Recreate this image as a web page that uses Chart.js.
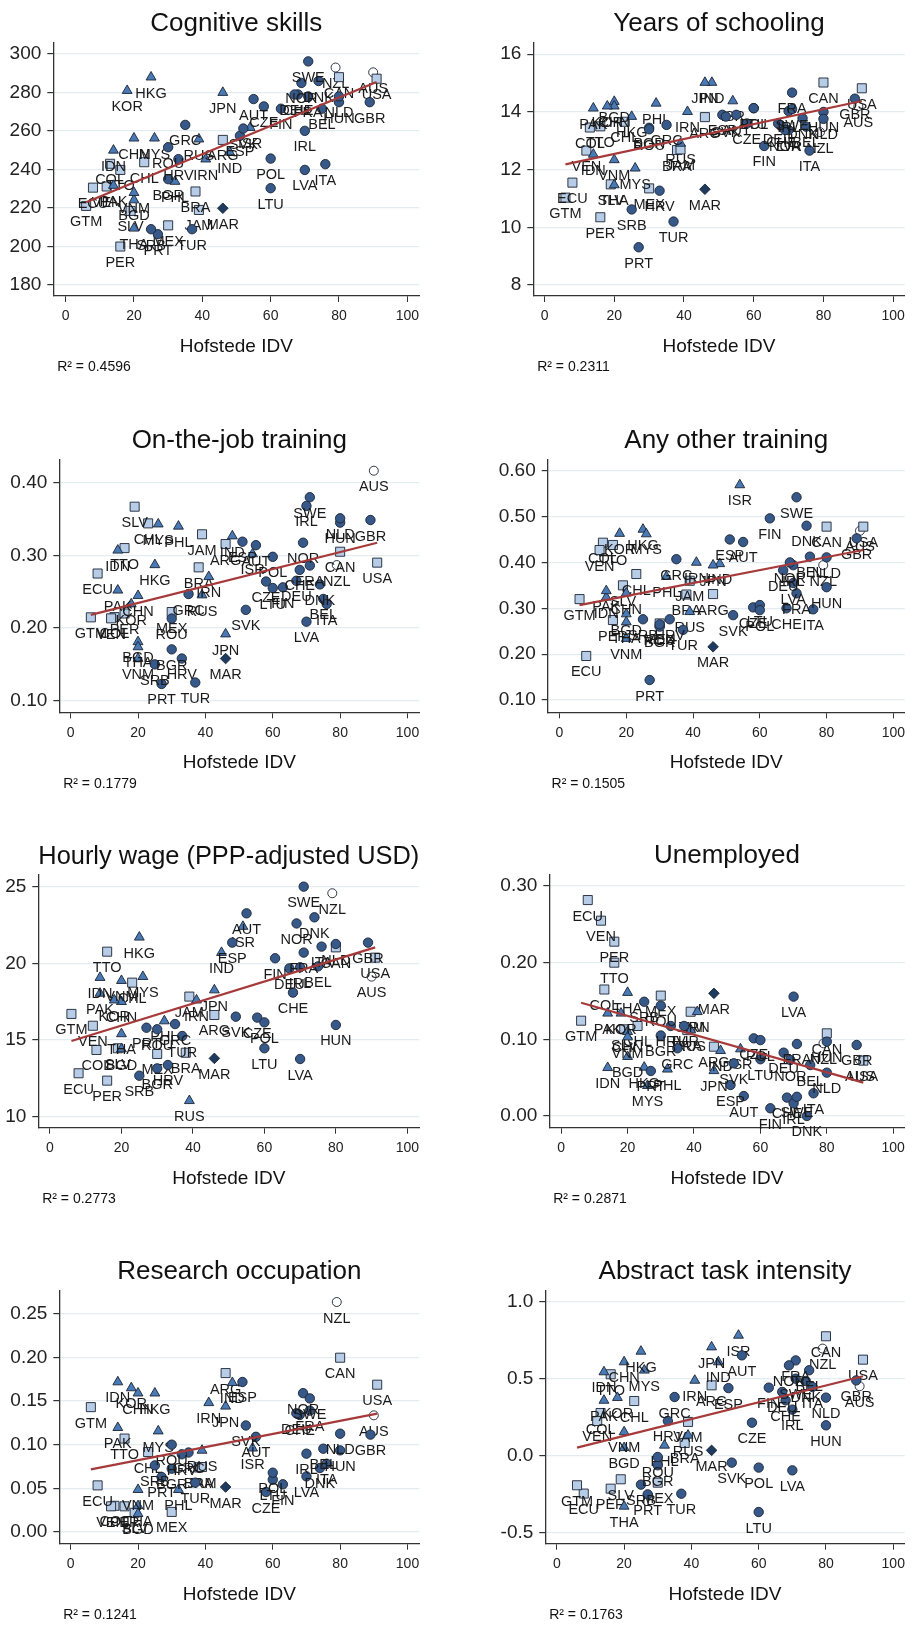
<!DOCTYPE html>
<html>
<head>
<meta charset="utf-8">
<script src="https://cdn.jsdelivr.net/npm/chart.js@4.4.1/dist/chart.umd.min.js"></script>
<style>
  html, body { margin: 0; padding: 0; background: #fff; overflow: hidden; }
  body { position: relative; width: 912px; height: 1627px; }
  canvas { position: absolute; }
</style>
</head>
<body>
<script>
// countries, Hofstede individualism and world region (marker group)
const countries = ['AUT','BEL','BGR','CHE','CZE','DEU','DNK','ESP','FIN','FRA','GBR','GRC','HRV','HUN','IRL','ITA','LTU','LVA','NLD','NOR','POL','PRT','ROU','SRB','SVK','SWE','TUR',
  'BGD','CHN','HKG','IDN','IND','IRN','ISR','JPN','KOR','MYS','PAK','PHL','RUS','THA','VNM',
  'ARG','BRA','CAN','CHL','COL','ECU','GTM','JAM','MEX','PER','SLV','TTO','USA','VEN',
  'MAR','AUS','NZL'];
const idv = [55,75,30,68,58,67,74,51,63,71,89,35,33,80,70,76,60,70,80,69,60,27,30,25,52,71,37,
  20,20,25,14,48,41,54,46,18,26,14,32,39,20,20,
  46,38,80,23,13,8,6,39,30,16,19,16,91,12,
  46,90,79];
const region = [...Array(27).fill('Europe'), ...Array(15).fill('Asia'), ...Array(14).fill('Americas'), 'Africa', 'Oceania', 'Oceania'];

// outcomes, same order as countries
const cognitive = [276.6,271.6,235,279,272.8,279,286,257.5,271.6,278,275,263.2,245.4,275,260.1,242.8,230.3,239.8,278,285,245.7,206.4,251.6,209,261.3,296.2,209,
  224.2,256.3,288,250,249,245.4,261.8,280,281,256.3,231.7,233.8,255.8,209.5,228,
  255.4,228.6,288,243.8,243,230.6,221.1,219,211,200,218.5,239.8,287.2,231.2,
  219.9,290.5,293];
const schooling = [13.9,13.49,13.45,13.5,13.6,13.6,13.78,13.9,12.82,14.67,14.46,13.55,11.27,14.0,14.03,12.66,14.13,13.37,13.76,13.37,14.13,9.31,13.4,10.62,13.84,14.1,10.2,
  14.36,14.2,13.84,12.53,15.02,14.01,14.38,15.02,14.2,12.05,14.13,14.3,12.91,11.47,12.34,
  13.82,12.68,15.02,13.66,13.46,11.55,11.03,12.7,11.35,10.35,11.49,13.5,14.82,12.66,
  11.32,14.2,13.3];
const jobTraining = [0.314,0.24,0.1706,0.28,0.264,0.265,0.26,0.3188,0.256,0.286,0.3486,0.2468,0.158,0.345,0.368,0.233,0.255,0.2087,0.351,0.3174,0.298,0.123,0.213,0.15,0.225,0.38,0.125,
  0.181,0.2445,0.287,0.307,0.3266,0.2706,0.302,0.1917,0.233,0.343,0.252,0.34,0.2454,0.174,0.158,
  0.3156,0.2835,0.305,0.344,0.215,0.275,0.2147,0.329,0.222,0.22,0.367,0.31,0.29,0.2133,
  0.158,0.4165,0.2867];
const otherTraining = [0.4445,0.4125,0.26,0.3,0.302,0.383,0.48,0.45,0.496,0.3326,0.4525,0.407,0.276,0.346,0.394,0.2977,0.307,0.355,0.411,0.4,0.296,0.1436,0.265,0.276,0.285,0.542,0.253,
  0.2875,0.333,0.472,0.324,0.397,0.40,0.569,0.394,0.463,0.462,0.338,0.369,0.2925,0.27,0.234,
  0.331,0.33,0.478,0.3747,0.443,0.196,0.32,0.36,0.267,0.2744,0.35,0.438,0.478,0.427,
  0.216,0.469,0.394];
const wage = [23.26,19.8,13.15,18.09,16.46,19.67,23.0,21.35,20.33,20.7,21.35,16.04,13.37,15.98,19.74,21.09,14.46,13.76,21.26,22.6,16.15,15.8,15.7,12.67,16.52,25.0,15.26,
  14.41,17.5,21.7,19.07,20.7,17.6,22.4,18.26,17.6,19.13,18.04,16.24,11.04,15.4,18.87,
  16.63,14.17,21.04,18.74,14.35,12.83,16.7,17.83,14.09,12.35,14.46,20.76,20.37,15.93,
  13.8,19.13,24.57];
const unemployed = [0.026,0.0665,0.105,0.024,0.1013,0.0826,0.0,0.0404,0.01,0.0939,0.0926,0.0883,0.1174,0.097,0.0165,0.0296,0.074,0.1557,0.0565,0.073,0.099,0.0587,0.144,0.149,0.0687,0.025,0.1174,
  0.0774,0.11,0.0635,0.063,0.0852,0.136,0.0874,0.059,0.134,0.0396,0.134,0.061,0.112,0.161,0.103,
  0.0904,0.112,0.1078,0.1174,0.165,0.2817,0.1243,0.136,0.157,0.2274,0.113,0.2,0.0722,0.2548,
  0.16,0.073,0.0948];
const research = [0.109,0.0954,0.0725,0.134,0.0458,0.136,0.0733,0.1718,0.0546,0.139,0.1115,0.091,0.089,0.0935,0.0897,0.0782,0.06,0.0637,0.1126,0.159,0.0679,0.063,0.1,0.0763,0.122,0.153,0.0565,
  0.021,0.159,0.159,0.1718,0.171,0.148,0.096,0.144,0.165,0.1156,0.1195,0.0485,0.0935,0.03,0.0485,
  0.182,0.074,0.1996,0.0916,0.03,0.0534,0.143,0.0744,0.023,0.0294,0.022,0.107,0.1687,0.0294,
  0.0515,0.1336,0.2634];
const abstractTask = [0.653,0.556,-0.062,0.36,0.215,0.415,0.486,0.44,0.443,0.62,0.49,0.382,0.226,0.198,0.3,0.447,-0.366,-0.095,0.378,0.588,-0.077,-0.251,-0.008,-0.188,-0.045,0.501,-0.247,
  0.052,0.61,0.679,0.545,0.61,0.49,0.783,0.707,0.378,0.556,0.36,0.068,0.133,-0.329,0.155,
  0.458,0.083,0.777,0.356,0.278,-0.246,-0.192,0.22,-0.175,-0.214,-0.153,0.53,0.625,0.226,
  0.035,0.452,0.697];

// fitted line end points
const fitCognitive = [[6,223],[91,285.5]];
const fitSchooling = [[6,12.18],[91,14.38]];
const fitJobTraining = [[6,0.218],[91,0.3174]];
const fitOtherTraining = [[6,0.307],[91,0.427]];
const fitWage = [[6,14.93],[91,21.04]];
const fitUnemployed = [[6,0.1478],[91,0.0435]];
const fitResearch = [[6,0.0718],[91,0.1355]];
const fitAbstract = [[6,0.053],[91,0.517]];

const titles = ['Cognitive skills','Years of schooling','On-the-job training','Any other training',
  'Hourly wage (PPP-adjusted USD)','Unemployed','Research occupation','Abstract task intensity'];
const rSquared = ['0.4596','0.2311','0.1779','0.1505','0.2773','0.2871','0.1241','0.1763'];
const xTicks = [0,20,40,60,80,100];
const yTicks = [
  [180,200,220,240,260,280,300], [8,10,12,14,16], [0.1,0.2,0.3,0.4], [0.1,0.2,0.3,0.4,0.5,0.6],
  [10,15,20,25], [0,0.1,0.2,0.3], [0,0.05,0.1,0.15,0.2,0.25], [-0.5,0,0.5,1.0]];
const yDecimals = [0,0,2,2,0,2,2,1];

const panels = [
  {values: cognitive,     fit: fitCognitive,     box: [53.3, 42.7, 419.3, 296],    x: [-3.61, 103.5],  y: [174.3, 305.9]},
  {values: schooling,     fit: fitSchooling,     box: [533.3, 42.7, 909.3, 296],   x: [-3.22, 103.3],  y: [7.62, 16.40]},
  {values: jobTraining,   fit: fitJobTraining,   box: [59.3, 459.3, 419.3, 712.3], x: [-3.37, 103.5],  y: [0.084, 0.4322]},
  {values: otherTraining, fit: fitOtherTraining, box: [547.7, 459.3, 909.3, 712.3],x: [-3.54, 103.4],  y: [0.0732, 0.6248]},
  {values: wage,          fit: fitWage,          box: [38.3, 875, 419.3, 1127.7],  x: [-3.27, 103.35], y: [9.28, 25.76]},
  {values: unemployed,    fit: fitUnemployed,    box: [549.3, 874.3, 909.3, 1127.7], x: [-3.58, 103.46], y: [-0.0153, 0.3153]},
  {values: research,      fit: fitResearch,      box: [59.3, 1290.3, 419.3, 1543.7], x: [-3.37, 103.5], y: [-0.0134, 0.2768]},
  {values: abstractTask,  fit: fitAbstract,      box: [545.3, 1290.3, 909.3, 1543.7], x: [-3.43, 103.4], y: [-0.572, 1.076]}
];

const groups = [
  {name: 'Europe',   style: 'circle',   radius: 4.7, fill: '#37598a'},
  {name: 'Asia',     style: 'triangle', radius: 5.7, fill: '#4a7ab5'},
  {name: 'Americas', style: 'rect',     radius: 6.4, fill: '#b7cde7'},
  {name: 'Africa',   style: 'rectRot',  radius: 5.3, fill: '#1d3a5f'},
  {name: 'Oceania',  style: 'circle',   radius: 4.5, fill: '#ffffff'}
];

Chart.defaults.font.family = '"Liberation Sans", Arial, sans-serif';
Chart.defaults.color = '#1a1a1a';

// country code written under each marker
const countryLabels = {
  id: 'countryLabels',
  afterDatasetDraw(chart, args) {
    const ds = chart.data.datasets[args.index];
    if (ds.isFit) return;
    const ctx = chart.ctx;
    ctx.save();
    ctx.font = '14.5px "Liberation Sans", Arial, sans-serif';
    ctx.fillStyle = '#1a1a1a';
    ctx.textAlign = 'center';
    ctx.textBaseline = 'middle';
    args.meta.data.forEach((pt, j) => ctx.fillText(ds.data[j].label, pt.x, pt.y + 16.5));
    ctx.restore();
  }
};

panels.forEach((p, i) => {
  const col = i % 2;
  const [l, t, r, b] = p.box;
  const left = col * 456;
  const top = Math.round(t - 43);
  const height = Math.round(b - top + 88);
  const canvas = document.createElement('canvas');
  canvas.width = 456;
  canvas.height = height;
  canvas.style.left = left + 'px';
  canvas.style.top = top + 'px';
  document.body.appendChild(canvas);

  const datasets = groups.map(g => ({
    label: g.name,
    data: countries.map((c, k) => ({x: idv[k], y: p.values[k], label: c, reg: region[k]}))
      .filter(d => d.reg === g.name && d.y !== null),
    pointStyle: g.style,
    pointRadius: g.radius,
    backgroundColor: g.fill,
    borderColor: '#1b2433',
    borderWidth: 0.9,
    order: 1
  }));
  datasets.push({
    label: 'Fitted values',
    isFit: true,
    data: p.fit.map(d => ({x: d[0], y: d[1]})),
    showLine: true,
    pointRadius: 0,
    borderColor: '#a63a3a',
    borderWidth: 2.2,
    order: 0
  });

  const titleLine = 26 * 1.2;
  const subLine = 14 * 1.2;
  new Chart(canvas.getContext('2d'), {
    type: 'scatter',
    data: {datasets},
    plugins: [countryLabels],
    options: {
      responsive: false,
      animation: false,
      devicePixelRatio: 1,
      events: [],
      layout: {padding: {left: 0, right: left + 456 - r, top: 0, bottom: 0}},
      plugins: {
        legend: {display: false},
        tooltip: {enabled: false},
        title: {
          display: true, text: titles[i], fullSize: false, color: '#111',
          font: {size: 26, weight: 'normal'},
          padding: {top: t - top - titleLine - 2.9, bottom: 2.9}
        },
        subtitle: {
          display: true, position: 'bottom', align: 'start', fullSize: false,
          text: ' R² = ' + rSquared[i], color: '#111',
          font: {size: 14, weight: 'normal'},
          padding: {top: 1.2, bottom: height - (b - top) - 62 - 1.2 - subLine}
        }
      },
      scales: {
        x: {
          type: 'linear', min: p.x[0], max: p.x[1],
          afterBuildTicks: s => { s.ticks = xTicks.map(v => ({value: v})); },
          afterFit: s => { s.height = 62; },
          ticks: {font: {size: 14}, color: '#222', padding: 6},
          grid: {display: true, drawOnChartArea: false, drawTicks: true, tickLength: 6, tickColor: '#333'},
          border: {display: true, color: '#333', width: 1.3},
          title: {display: true, text: 'Hofstede IDV', font: {size: 19}, color: '#111', padding: {top: 0, bottom: 0}}
        },
        y: {
          type: 'linear', min: p.y[0], max: p.y[1],
          afterBuildTicks: s => { s.ticks = yTicks[i].map(v => ({value: v})); },
          afterFit: s => { s.width = l - left; },
          ticks: {
            font: {size: 19}, color: '#222', padding: 6,
            callback: v => Number(v).toFixed(yDecimals[i])
          },
          grid: {color: '#e3ecf1', lineWidth: 1.2, drawTicks: true, tickLength: 6, tickColor: '#333'},
          border: {display: true, color: '#333', width: 1.3}
        }
      }
    }
  });
});
</script>
</body>
</html>
